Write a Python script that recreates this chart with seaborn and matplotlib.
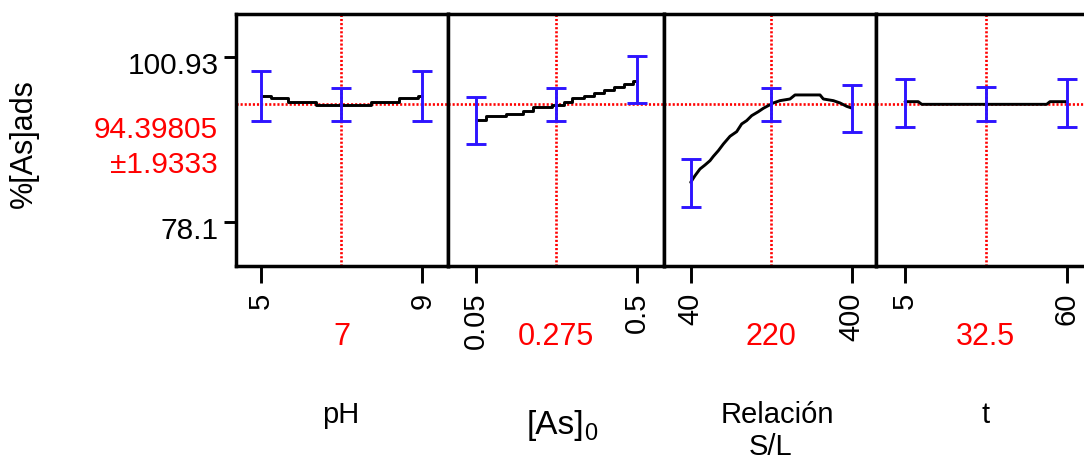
import numpy as np
import matplotlib
matplotlib.use("Agg")
import matplotlib.pyplot as plt
import matplotlib.transforms as mtransforms
import seaborn as sns

# ---------------- data ----------------
y_label = "%[As]ads"
pred_value = 94.39805
pred_ci = "±1.9333"
y_ticks = [78.1, 100.93]
y_tick_labels = ["78.1", "100.93"]

current_x = [7, 0.275, 220, 32.5]
current_labels = ["7", "0.275", "220", "32.5"]
x_ticks = [[5, 9], [0.05, 0.5], [40, 400], [5, 60]]
x_tick_labels = [["5", "9"], ["0.05", "0.5"], ["40", "400"], ["5", "60"]]

# profile traces
ph_x = [5.0, 5.25, 5.68, 6.37, 7.72, 8.43, 8.90, 9.0]
ph_y = [95.58, 95.21, 94.75, 94.33, 94.75, 95.21, 95.58, 95.58]

as_x = [0.05, 0.078, 0.134, 0.183, 0.211, 0.264, 0.298, 0.318, 0.354,
        0.381, 0.409, 0.437, 0.465, 0.490, 0.5]
as_y = [92.21, 92.72, 93.04, 93.46, 93.96, 94.33, 94.70, 95.21, 95.58,
        96.00, 96.41, 96.83, 97.25, 97.66, 97.66]

sl_x = [40, 49.6, 60.8, 72.0, 83.2, 90.7, 101.9, 113.1, 128.0, 142.9, 154.1,
        165.3, 176.5, 191.4, 202.6, 213.8, 225.0, 239.9, 262.3, 273.5, 329.5,
        336.9, 359.3, 374.3, 389.2, 400]
sl_y = [83.57, 84.49, 85.42, 85.97, 86.57, 87.17, 87.96, 88.88, 89.95, 90.59,
        91.66, 92.12, 92.81, 93.36, 93.83, 94.20, 94.57, 94.89, 95.12, 95.68,
        95.68, 95.12, 94.89, 94.57, 94.10, 93.87]

t_x = [5, 9.5, 10.7, 53.2, 54.3, 60]
t_y = [94.75, 94.75, 94.38, 94.38, 94.75, 94.75]

# confidence bars (x, low, high)
ph_bar_x = [5, 7, 9]
ph_bar_lo = [92.11, 92.11, 92.11]
ph_bar_hi = [99.04, 96.60, 99.04]

as_bar_x = [0.05, 0.275, 0.5]
as_bar_lo = [88.84, 92.11, 94.52]
as_bar_hi = [95.44, 96.60, 101.12]

sl_bar_x = [40, 220, 400]
sl_bar_lo = [80.19, 92.07, 90.50]
sl_bar_hi = [86.76, 96.60, 97.06]

t_bar_x = [5, 32.5, 60]
t_bar_lo = [91.28, 92.11, 91.28]
t_bar_hi = [97.85, 96.74, 97.85]

traces = [(ph_x, ph_y, "steps-post"), (as_x, as_y, "steps-post"),
          (sl_x, sl_y, "default"), (t_x, t_y, "default")]
bars = [(ph_bar_x, ph_bar_lo, ph_bar_hi), (as_bar_x, as_bar_lo, as_bar_hi),
        (sl_bar_x, sl_bar_lo, sl_bar_hi), (t_bar_x, t_bar_lo, t_bar_hi)]

# ---------------- styling / layout ----------------
sns.set_theme(style="white")
plt.rcParams["font.family"] = ["Liberation Sans", "DejaVu Sans"]
plt.rcParams["text.color"] = "black"

W, H = 1084, 459
fig = plt.figure(figsize=(W / 100, H / 100), dpi=100)
fig.patch.set_facecolor("white")

def fx(px):
    return px / W

def fy(py):
    return 1 - py / H

top_px, bot_px = 14, 266
panels_px = [(236, 448), (448, 663.5), (663.5, 875.5), (875.5, 1096)]
xlims = [(4.389, 9.636), (-0.0274, 0.5749), (-20.9, 453.7), (-5.03, 69.97)]
ylim = (71.97, 106.90)

RED = "#ff0000"
BLUE = "#2e14ff"
FS = 21.5
DOT = (0, (0.8, 0.75))

for i, ((l, r), xl) in enumerate(zip(panels_px, xlims)):
    ax = fig.add_axes([fx(l), fy(bot_px), (r - l) / W, (bot_px - top_px) / H])
    ax.set_facecolor("white")
    ax.set_xlim(*xl)
    ax.set_ylim(*ylim)
    for sp in ax.spines.values():
        sp.set_color("black")
        sp.set_linewidth(2.5)
        sp.set_visible(True)

    # reference lines
    ax.axhline(pred_value, color=RED, lw=1.9, ls=DOT, zorder=1)
    ax.axvline(current_x[i], color=RED, lw=1.9, ls=DOT, zorder=1)

    # profile trace
    xs, ys, ds = traces[i]
    sns.lineplot(x=xs, y=ys, ax=ax, color="black", lw=2.1, drawstyle=ds,
                 sort=False, estimator=None, zorder=3)

    # confidence bars
    bx, blo, bhi = bars[i]
    blo = np.array(blo); bhi = np.array(bhi)
    ax.errorbar(bx, (blo + bhi) / 2, yerr=(bhi - blo) / 2, fmt="none",
                ecolor=BLUE, elinewidth=2.1, capsize=7.5, capthick=2.1, zorder=4)

    ax.set_xticks(x_ticks[i])
    ax.set_xticklabels(x_tick_labels[i], rotation=90, fontsize=21)
    ax.tick_params(axis="x", direction="out", length=12, width=2.1,
                   pad=7, bottom=True, colors="black")
    if i == 0:
        ax.set_yticks(y_ticks)
        ax.set_yticklabels(y_tick_labels, fontsize=FS)
        ax.tick_params(axis="y", direction="out", length=8.5, width=2.1,
                       pad=4, left=True, colors="black")
        shift = mtransforms.ScaledTranslation(0, -6 / 100, fig.dpi_scale_trans)
        for lab in ax.get_yticklabels():
            lab.set_transform(lab.get_transform() + shift)
    else:
        ax.set_yticks([])
    ax.grid(False)
    ax.set_xlabel("")
    ax.set_ylabel("")

    # current value (red)
    cx = l + (current_x[i] - xl[0]) / (xl[1] - xl[0]) * (r - l)
    fig.text(fx(cx), fy(345), current_labels[i], color=RED, fontsize=22,
             ha="center", va="baseline")

# factor names
fig.text(fx(341), fy(423), "pH", fontsize=21, ha="center", va="baseline", color="black")
fig.text(fx(527), fy(434), "[As]", fontsize=24, ha="left", va="baseline", color="black")
fig.text(fx(584), fy(440), "0", fontsize=17, ha="left", va="baseline", color="black")
fig.text(fx(777), fy(423), "Relación", fontsize=21, ha="center", va="baseline", color="black")
fig.text(fx(771), fy(455), "S/L", fontsize=21, ha="center", va="baseline", color="black")
fig.text(fx(986), fy(423), "t", fontsize=21, ha="center", va="baseline", color="black")

# response label and predicted value
fig.text(fx(24), fy(144), y_label, rotation=90, fontsize=22,
         ha="center", va="center", color="black")
fig.text(fx(218), fy(130), f"{pred_value:.5f}", color=RED, fontsize=FS,
         ha="right", va="center")
fig.text(fx(218), fy(165), pred_ci, color=RED, fontsize=FS,
         ha="right", va="center")

fig.savefig("out.png", dpi=100, facecolor="white")
